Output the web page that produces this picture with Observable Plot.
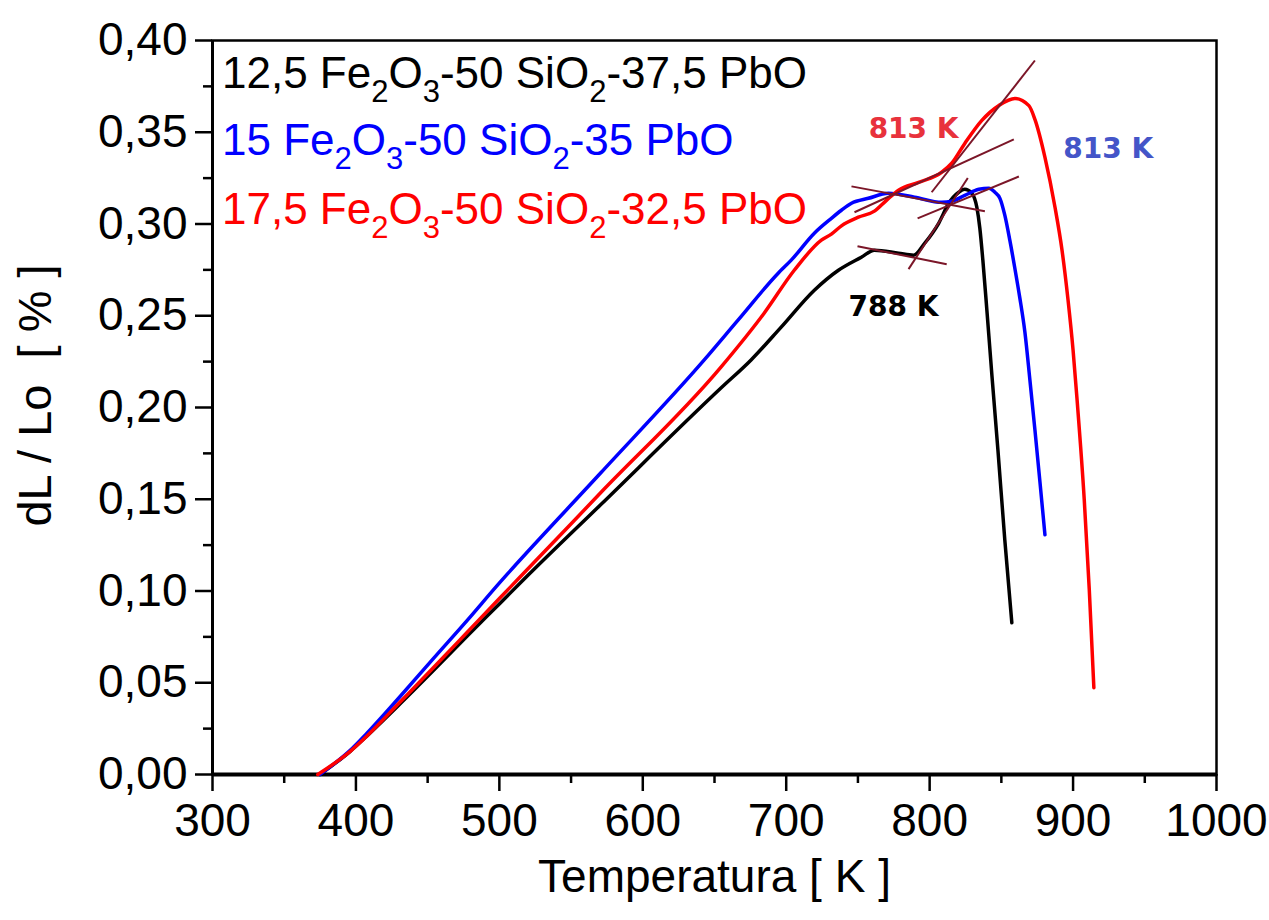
<!DOCTYPE html>
<html><head><meta charset="utf-8">
<script src="https://cdn.jsdelivr.net/npm/d3@7"></script>
<script src="https://cdn.jsdelivr.net/npm/@observablehq/plot@0.6"></script>
<style>body{margin:0;background:#fff;} svg{display:block;background:#fff}</style>
</head><body><div id="chart"></div>
<script>
// ---- data ----
const blackT = [374.8, 395.8, 407.7, 430.8, 453.8, 477.6, 500.7, 516.8, 570.6, 654.5, 675.5, 696.5, 719.6, 736.4, 752.4, 761.5, 778.3, 788.8, 796.5, 806.3, 813.3, 820.3, 824.5, 829.4, 832.9, 835.0, 837.1, 839.9, 843.4, 847.6, 852.4, 857.3];
const blackV = [0, 0.0125, 0.021, 0.0385, 0.0565, 0.0755, 0.0935, 0.1061, 0.147, 0.2106, 0.2259, 0.2438, 0.2639, 0.2748, 0.2819, 0.2857, 0.2841, 0.2830, 0.2895, 0.3004, 0.3113, 0.3173, 0.3189, 0.3167, 0.3091, 0.2977, 0.2803, 0.2531, 0.2177, 0.1769, 0.1279, 0.0827];

const blueT = [374.8, 395.8, 407.7, 430.8, 453.8, 477.6, 500.7, 506.3, 570.6, 642.7, 666.4, 694.4, 703.5, 719.6, 731.5, 738.5, 745.5, 757.3, 771.3, 789.5, 808.4, 815.4, 824.5, 834.3, 841.3, 845.5, 849.0, 852.4, 855.9, 859.4, 862.9, 866.4, 869.9, 873.4, 876.9, 880.4];
const blueV = [0, 0.013, 0.0225, 0.0425, 0.063, 0.084, 0.105, 0.1099, 0.1643, 0.2258, 0.2476, 0.2732, 0.2803, 0.2950, 0.3031, 0.3075, 0.3113, 0.3140, 0.3167, 0.3146, 0.3118, 0.3124, 0.3156, 0.3189, 0.3195, 0.3173, 0.3140, 0.3048, 0.2912, 0.2759, 0.2596, 0.2411, 0.2150, 0.1878, 0.1595, 0.1306];

const redT = [373.4, 395.8, 407.7, 430.8, 453.8, 477.6, 500.7, 512.6, 570.6, 654.5, 684.6, 705.6, 724.5, 731.5, 738.5, 750.3, 761.5, 769.9, 778.3, 792.3, 808.4, 815.4, 824.5, 836.4, 848.3, 859.5, 869.2, 873.4, 880.4, 887.4, 892.3, 896.5, 900.0, 902.8, 907.8, 911.3, 914.5];
const redV = [0, 0.0125, 0.021, 0.0395, 0.0580, 0.0775, 0.0965, 0.1061, 0.1535, 0.2220, 0.2514, 0.2748, 0.2912, 0.2945, 0.2990, 0.3037, 0.3070, 0.3129, 0.3184, 0.3227, 0.3282, 0.3331, 0.3439, 0.3565, 0.3646, 0.3684, 0.3645, 0.3570, 0.3363, 0.3091, 0.2857, 0.2585, 0.2313, 0.2041, 0.1497, 0.1007, 0.0473];

// tangent construction lines
const tanT1 = [801.4, 747.6, 745.5, 791.6, 785.3, 749.7];
const tanV1 = [0.3173, 0.3064, 0.3205, 0.3031, 0.2754, 0.2879];
const tanT2 = [873.4, 858.7, 838.5, 862.2, 826.6, 811.9];
const tanV2 = [0.3891, 0.3461, 0.3069, 0.3259, 0.3251, 0.2781];

// annotations
const noteText = ["813 K", "813 K", "788 K"];
const noteT = [788.8, 924.5, 774.8];
const noteV = [0.3516, 0.3410, 0.2547];
const noteColor = ["#e8323c", "#4455c8", "#000000"];

// legend entries: [text, isSubscript]
const legendColors = ["#000000", "#0000ff", "#ff0000"];
const legendParts = [
  [["12,5 Fe", 0], ["2", 1], ["O", 0], ["3", 1], ["-50 SiO", 0], ["2", 1], ["-37,5 PbO", 0]],
  [["15 Fe", 0], ["2", 1], ["O", 0], ["3", 1], ["-50 SiO", 0], ["2", 1], ["-35 PbO", 0]],
  [["17,5 Fe", 0], ["2", 1], ["O", 0], ["3", 1], ["-50 SiO", 0], ["2", 1], ["-32,5 PbO", 0]]
];

const xMajor = [300, 400, 500, 600, 700, 800, 900, 1000];
const xMinor = [350, 450, 550, 650, 750, 850, 950];
const yMajor = [0, 0.05, 0.10, 0.15, 0.20, 0.25, 0.30, 0.35, 0.40];
const yMinor = [0.025, 0.075, 0.125, 0.175, 0.225, 0.275, 0.325, 0.375];

// ---- build tables ----
const toRows = (T, V) => T.map((t, i) => ({T: t, v: V[i]}));
const black = toRows(blackT, blackV);
const blue = toRows(blueT, blueV);
const red = toRows(redT, redV);
const tangents = tanT1.map((t, i) => ({t1: t, v1: tanV1[i], t2: tanT2[i], v2: tanV2[i]}));
const notes = noteText.map((s, i) => ({s, T: noteT[i], v: noteV[i], c: noteColor[i]}));

const font = "'Liberation Sans', Arial, Helvetica, sans-serif";
const fmtY = d => d.toFixed(2).replace(".", ",");

const chart = Plot.plot({
  width: 1269, height: 920,
  marginLeft: 212, marginRight: 53, marginTop: 40, marginBottom: 146,
  style: {fontFamily: font, background: "#fff", color: "#000"},
  x: {domain: [300, 1000]},
  y: {domain: [0, 0.4]},
  marks: [
    Plot.frame({stroke: "#000", strokeWidth: 2.5}),
    Plot.axisX({ticks: xMajor, tickSize: 17, tickPadding: 12, fontSize: 46, strokeWidth: 2.5, tickFormat: d => String(d), label: null}),
    Plot.axisX({ticks: xMinor, tickSize: 9, strokeWidth: 2.5, tickFormat: () => "", label: null}),
    Plot.axisY({ticks: yMajor, tickSize: 17, tickPadding: 8, fontSize: 46, strokeWidth: 2.5, tickFormat: fmtY, label: null}),
    Plot.axisY({ticks: yMinor, tickSize: 9, strokeWidth: 2.5, tickFormat: () => "", label: null}),
    Plot.ruleY([0], {stroke: "#000", strokeWidth: 4}),
    Plot.ruleX([300], {stroke: "#000", strokeWidth: 3}),
    Plot.text(["Temperatura [ K ]"], {frameAnchor: "bottom", dy: 103, lineAnchor: "middle", textAnchor: "middle", fontSize: 46, fill: "#000"}),
    Plot.text(["dL / Lo\u00a0\u00a0[ % ]"], {frameAnchor: "left", dx: -177, dy: -12, rotate: -90, lineAnchor: "middle", textAnchor: "middle", fontSize: 47, fill: "#000"}),
    Plot.line(black, {x: "T", y: "v", stroke: "#000000", strokeWidth: 3.5, curve: "monotone-x"}),
    Plot.line(blue, {x: "T", y: "v", stroke: "#0000ff", strokeWidth: 3.5, curve: "monotone-x"}),
    Plot.line(red, {x: "T", y: "v", stroke: "#ff0000", strokeWidth: 3.5, curve: "monotone-x"}),
    Plot.link(tangents, {x1: "t1", y1: "v1", x2: "t2", y2: "v2", stroke: "#7b1628", strokeWidth: 2}),
    ...notes.map(n => Plot.text([n], {x: "T", y: "v", text: "s", fill: n.c, fontSize: 28, fontWeight: "bold", fontFamily: "'DejaVu Sans', Verdana, sans-serif"}))
  ]
});

// legend with subscripts, inside the frame at top-left
const svg = d3.select(chart);
const legendX = 222;
const legendY = [88, 155, 224];
legendParts.forEach((parts, i) => {
  const t = svg.append("text")
    .attr("x", legendX).attr("y", legendY[i])
    .attr("text-anchor", "start")
    .attr("fill", legendColors[i])
    .attr("font-family", font)
    .attr("font-size", 44);
  let down = false;
  parts.forEach(([s, sub]) => {
    const ts = t.append("tspan").text(s);
    if (sub && !down) { ts.attr("dy", 14).attr("font-size", 31); down = true; }
    else if (sub) { ts.attr("font-size", 31); }
    else if (!sub && down) { ts.attr("dy", -14); down = false; }
  });
});

document.getElementById("chart").appendChild(chart);
</script>
</body></html>
